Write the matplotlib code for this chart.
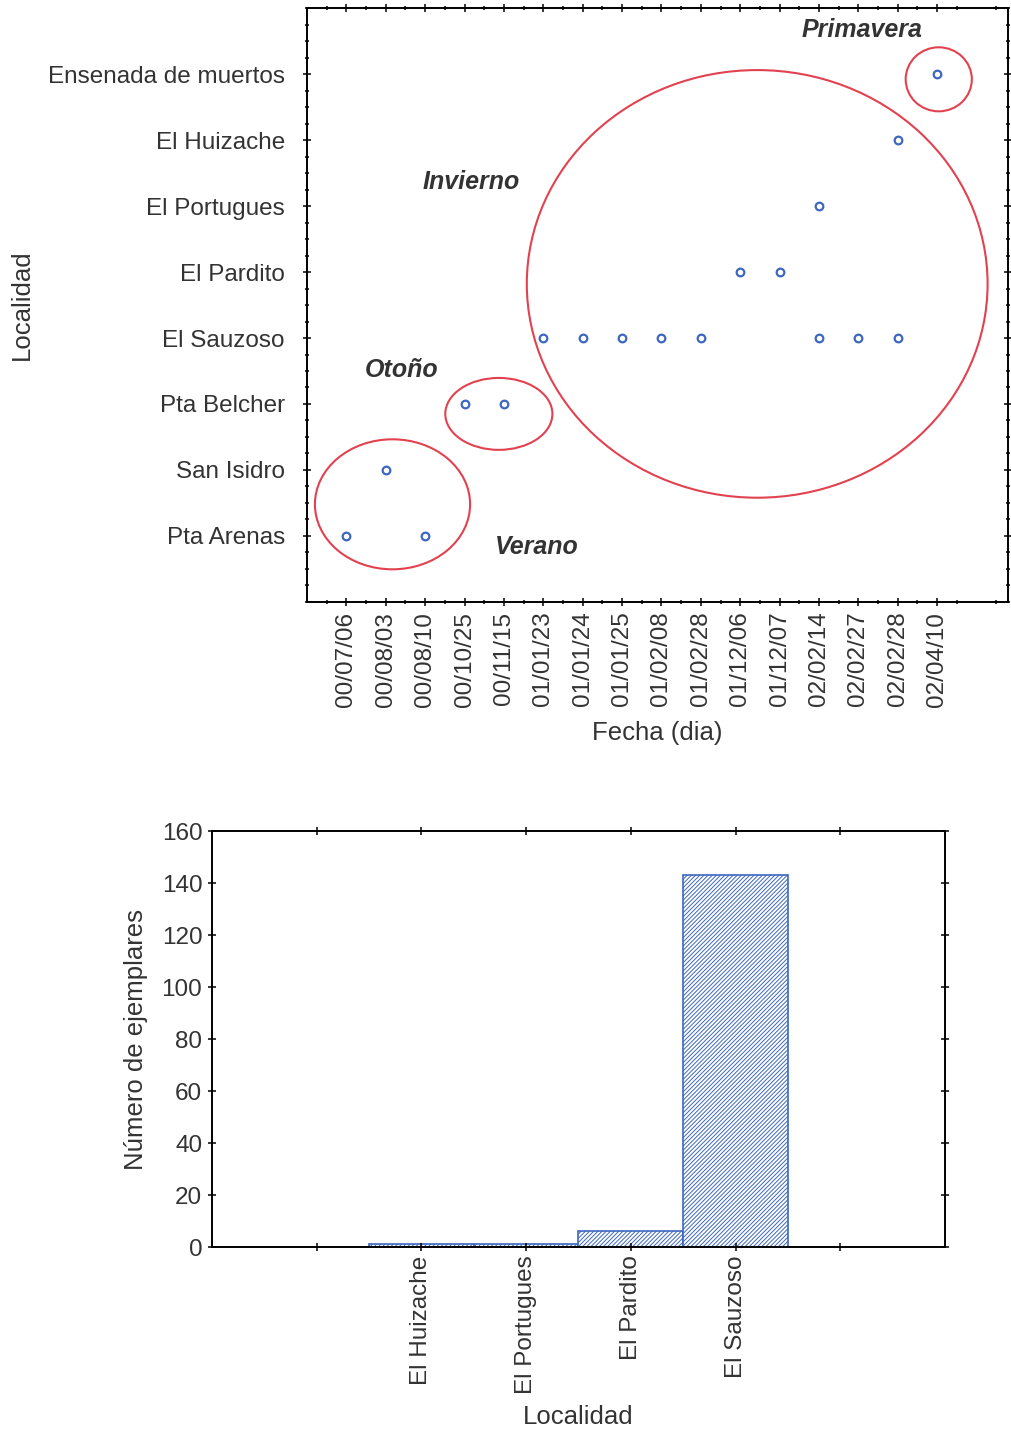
import matplotlib.pyplot as plt
from matplotlib.patches import Ellipse

plt.rcParams['font.family'] = ['Liberation Sans', 'DejaVu Sans']
plt.rcParams['hatch.linewidth'] = 0.7

# --- top chart: sampling dates per locality ---
fechas = ["00/07/06", "00/08/03", "00/08/10", "00/10/25", "00/11/15", "01/01/23",
          "01/01/24", "01/01/25", "01/02/08", "01/02/28", "01/12/06", "01/12/07",
          "02/02/14", "02/02/27", "02/02/28", "02/04/10"]
localidades = ["Pta Arenas", "San Isidro", "Pta Belcher", "El Sauzoso", "El Pardito",
               "El Portugues", "El Huizache", "Ensenada de muertos"]
# (fecha, localidad) of each sample
muestra_fecha = ["00/07/06", "00/08/10", "00/08/03", "00/10/25", "00/11/15",
                 "01/01/23", "01/01/24", "01/01/25", "01/02/08", "01/02/28",
                 "02/02/14", "02/02/27", "02/02/28", "01/12/06", "01/12/07",
                 "02/02/14", "02/02/28", "02/04/10"]
muestra_loc = ["Pta Arenas", "Pta Arenas", "San Isidro", "Pta Belcher", "Pta Belcher",
               "El Sauzoso", "El Sauzoso", "El Sauzoso", "El Sauzoso", "El Sauzoso",
               "El Sauzoso", "El Sauzoso", "El Sauzoso", "El Pardito", "El Pardito",
               "El Portugues", "El Huizache", "Ensenada de muertos"]

# seasons: name, ellipse (cx, cy, w, h), label (x, y)
estaciones = ["Verano", "Otoño", "Invierno", "Primavera"]
elipses = [(1.17, 0.48, 3.94, 1.97), (3.87, 1.85, 2.72, 1.09),
           (10.43, 3.82, 11.7, 6.48), (15.04, 6.92, 1.68, 0.97)]
etiquetas = [(4.84, -0.17), (1.4, 2.51), (3.18, 5.36), (13.08, 7.67)]

# --- bottom chart: specimens per locality ---
loc_bar = ["El Huizache", "El Portugues", "El Pardito", "El Sauzoso"]
ejemplares = [1, 1, 6, 143]

blue = "#3d67c0"
red = "#e2424f"
grey = "#333333"

fig = plt.figure(figsize=(10.11, 14.36), dpi=100)

ax1 = fig.add_axes([0.3037, 0.5808, 0.6934, 0.4136])
xs = [fechas.index(f) for f in muestra_fecha]
ys = [localidades.index(l) for l in muestra_loc]
ax1.plot(xs, ys, "o", ms=5.5, mfc="none", mec=blue, mew=1.6)
for (cx, cy, w, h) in elipses:
    ax1.add_patch(Ellipse((cx, cy), w, h, fill=False, ec=red, lw=1.5))
for name, (tx, ty) in zip(estaciones, etiquetas):
    ax1.text(tx, ty, name, ha="center", va="center", fontsize=18,
             fontweight="bold", style="italic", color=grey)
ax1.set_xlim(-1, 16.8)
ax1.set_ylim(-1, 8)
ax1.set_xticks(range(len(fechas)))
ax1.set_xticklabels(fechas, rotation=90, fontsize=17.5, color=grey)
ax1.set_xticks([i - 0.5 for i in range(len(fechas) + 2)], minor=True)
ax1.set_yticks(range(len(localidades)))
ax1.set_yticklabels(localidades, fontsize=17.5, color=grey)
ax1.set_yticks([i * 0.25 - 1 for i in range(37)], minor=True)
ax1.tick_params(which="both", direction="inout", top=True, right=True, width=1.1)
ax1.tick_params(which="major", length=6)
ax1.tick_params(axis="x", which="major", pad=4)
ax1.tick_params(axis="y", which="major", pad=13)
ax1.tick_params(which="minor", length=3)
ax1.set_xlabel("Fecha (dia)", fontsize=18.5, color=grey, labelpad=10)
ax1.set_ylabel("Localidad", fontsize=18.5, color=grey)
ax1.yaxis.set_label_coords(-0.39, 0.5)
for s in ax1.spines.values():
    s.set_linewidth(1.4)

ax2 = fig.add_axes([0.2097, 0.1316, 0.725, 0.2897])
pos = list(range(len(loc_bar)))
ax2.bar(pos, ejemplares, width=1.0, color="white", edgecolor=blue,
        hatch="////////", linewidth=1.2)
ax2.set_xlim(-2, 5)
ax2.set_ylim(0, 160)
ax2.set_xticks(range(-1, 5))
ax2.set_xticklabels([""] + loc_bar + [""], rotation=90, fontsize=17.5, color=grey)
ax2.set_yticks(range(0, 161, 20))
ax2.set_yticklabels([str(v) for v in range(0, 161, 20)], fontsize=17.5, color=grey)
ax2.tick_params(direction="inout", top=True, right=True, length=6, width=1.1)
ax2.tick_params(axis="x", pad=3)
ax2.tick_params(axis="y", pad=4)
ax2.set_xlabel("Localidad", fontsize=18.5, color=grey, labelpad=8)
ax2.set_ylabel("Número de ejemplares", fontsize=18.5, color=grey, labelpad=10)
for s in ax2.spines.values():
    s.set_linewidth(1.4)

fig.savefig("out.png", dpi=100)
